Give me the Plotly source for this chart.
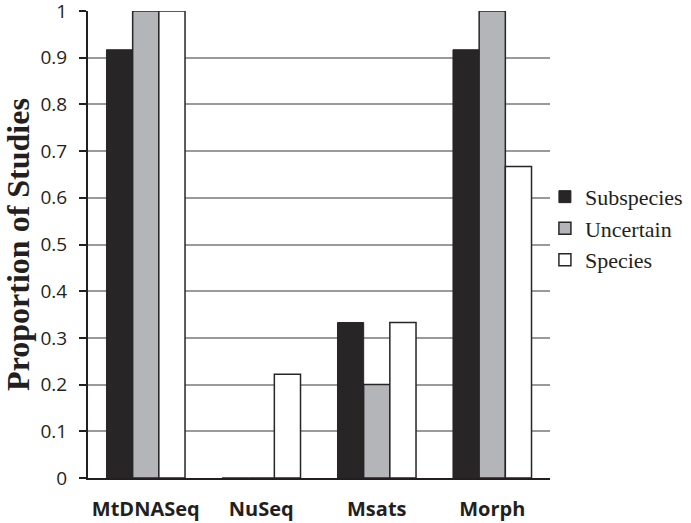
import plotly.graph_objects as go

categories = ["MtDNASeq", "NuSeq", "Msats", "Morph"]
subspecies = [0.917, 0.0, 0.333, 0.917]
uncertain = [1.0, 0.0, 0.2, 1.0]
species = [1.0, 0.222, 0.333, 0.667]
y_ticks = [0, 0.1, 0.2, 0.3, 0.4, 0.5, 0.6, 0.7, 0.8, 0.9, 1]
y_tick_text = ["0", "0.1", "0.2", "0.3", "0.4", "0.5", "0.6", "0.7", "0.8", "0.9", "1"]

fig = go.Figure()
fig.add_trace(go.Bar(name="Subspecies", x=categories, y=subspecies,
                     marker=dict(color="#272525", line=dict(color="#272525", width=1))))
fig.add_trace(go.Bar(name="Uncertain", x=categories, y=uncertain,
                     marker=dict(color="#b4b5b8", line=dict(color="#272525", width=1.5))))
fig.add_trace(go.Bar(name="Species", x=categories, y=species,
                     marker=dict(color="#ffffff", line=dict(color="#272525", width=1.5))))

fig.update_layout(
    width=691, height=523,
    margin=dict(l=88, r=141, t=11, b=45, autoexpand=False),
    paper_bgcolor="white", plot_bgcolor="white",
    barmode="group", bargap=0.32, bargroupgap=0,
    showlegend=True,
    legend=dict(x=0.989, y=0.647, xanchor="left", yanchor="top",
                font=dict(family="Liberation Serif", size=22, color="#231f20"),
                itemwidth=30, tracegroupgap=0, bgcolor="rgba(0,0,0,0)"),
    xaxis=dict(showline=True, linecolor="#231f20", linewidth=2, automargin=False,
               tickfont=dict(family="Open Sans", size=20, color="#231f20", weight="bold"),
               ticks="", showgrid=False, ticklabelstandoff=12),
    yaxis=dict(range=[0, 1], tickvals=y_ticks, ticktext=y_tick_text, automargin=False,
               showline=True, linecolor="#231f20", linewidth=2,
               ticks="outside", ticklen=7, tickcolor="#231f20", tickwidth=1.5,
               showgrid=True, gridcolor="#9a9a9a", gridwidth=1.5,
               tickfont=dict(family="Open Sans", size=19, color="#231f20"),
               ticklabelstandoff=8, ticklabeloverflow="allow",
               title=dict(text="Proportion of Studies", standoff=13,
                          font=dict(family="Liberation Serif", size=32, color="#231f20", weight="bold")),
               zeroline=False),
)

# remove the browser's default 8px body margin so the figure sits at the window origin
fig.write_html("out.html", config={"displayModeBar": False},
               post_script="document.body.style.margin='0px';")
